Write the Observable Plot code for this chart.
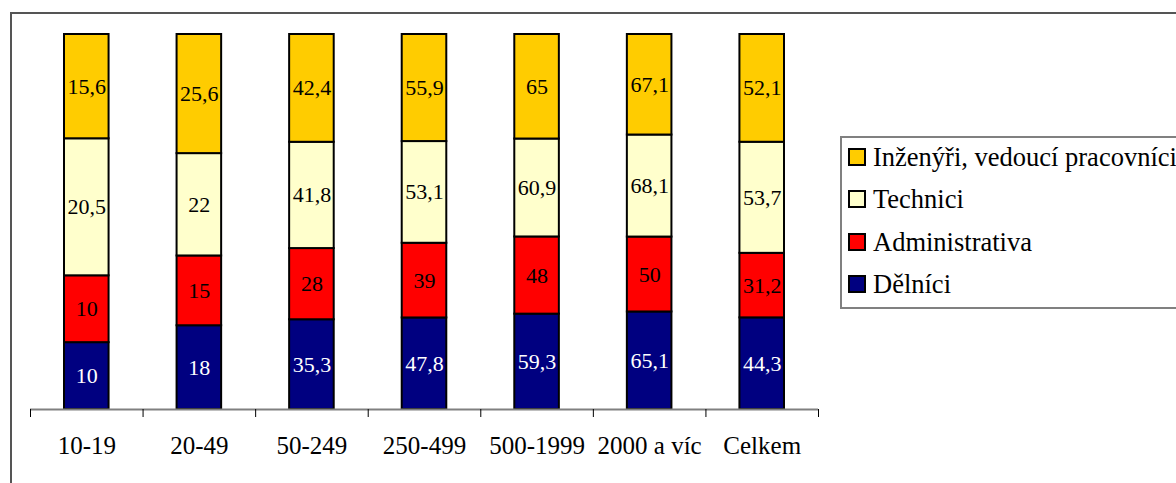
<!DOCTYPE html>
<html><head><meta charset="utf-8">
<script src="https://cdn.jsdelivr.net/npm/d3@7"></script>
<script src="https://cdn.jsdelivr.net/npm/@observablehq/plot@0.6"></script>
<style>
html,body{margin:0;padding:0;background:#fff;overflow:hidden;width:1176px;height:483px}
#wrap{position:relative;width:1176px;height:483px;overflow:hidden}
#frame{position:absolute;left:10px;top:12px;width:1300px;height:700px;border:2px solid #555;}
#chart{position:absolute;left:0;top:0}
#legend{position:absolute;left:840px;top:136px;width:500px;height:169px;border:2px solid #808080;font-family:"Liberation Serif",Tinos,"Times New Roman",Times,"DejaVu Serif",serif;font-size:26.5px;color:#000}
.item{position:absolute;left:6px;display:flex;align-items:center;white-space:nowrap;height:30px}
.sw{width:14px;height:14px;border:2px solid #000;margin-right:7px;flex:none}
svg text{font-family:"Liberation Serif",Tinos,"Times New Roman",Times,"DejaVu Serif",serif}
</style>
</head><body>
<div id="wrap">
<div id="frame"></div>
<div id="chart"></div>
<div id="legend"></div>
</div>
<script>
const categories = ["10-19","20-49","50-249","250-499","500-1999","2000 a víc","Celkem"];
const series = ["Dělníci","Administrativa","Technici","Inženýři, vedoucí pracovníci"];
const delnici = [10,18,35.3,47.8,59.3,65.1,44.3];
const administrativa = [10,15,28,39,48,50,31.2];
const technici = [20.5,22,41.8,53.1,60.9,68.1,53.7];
const inzenyri = [15.6,25.6,42.4,55.9,65,67.1,52.1];
const seriesValues = [delnici, administrativa, technici, inzenyri];
const colors = ["#000080","#FF0000","#FFFFCC","#FFCC00"];
const labelColors = ["#FFFFFF","#000000","#000000","#000000"];

const table = [];
seriesValues.forEach((vals, s) => {
  vals.forEach((v, i) => {
    table.push({i, s, series: series[s], value: v, label: String(v).replace(".", ",")});
  });
});

const serif = "'Liberation Serif',Tinos,'Times New Roman',Times,'DejaVu Serif',serif";
const n = categories.length;
const chart = Plot.plot({
  width: 1176,
  height: 483,
  marginLeft: 30,
  marginRight: 358,
  marginTop: 34,
  marginBottom: 74,
  style: {fontFamily: serif, fontSize: "25px", background: "transparent", color: "#000"},
  x: {domain: [0, n], axis: null, label: null},
  y: {domain: [0, 1], axis: null, label: null},
  marks: [
    Plot.rectY(table, Plot.stackY({
      offset: "normalize",
      x1: "i", x2: d => d.i + 1,
      y: "value", z: "series",
      fill: d => colors[d.s],
      stroke: "#000", strokeWidth: 2,
      insetLeft: 34, insetRight: 34
    })),
    Plot.text(table, Plot.stackY({
      offset: "normalize",
      x: d => d.i + 0.5,
      y: "value", z: "series",
      text: "label",
      fill: d => labelColors[d.s],
      fontSize: 22,
      fontFamily: serif
    })),
    Plot.ruleY([0], {stroke: "#808080", strokeWidth: 2}),
    Plot.axisX({ticks: d3.range(n + 1), tickSize: 8, tickFormat: () => "", stroke: "#000", label: null}),
    Plot.axisX({ticks: d3.range(n).map(i => i + 0.5), tickSize: 0, tickPadding: 27, tickFormat: v => categories[Math.floor(v)], fontSize: 25, fontFamily: serif, fill: "#000", label: null})
  ]
});
document.getElementById("chart").appendChild(chart);

const legend = document.getElementById("legend");
const legendOrder = [3, 2, 1, 0];
const centers = [19, 61, 104, 146];
legendOrder.forEach((s, k) => {
  const it = document.createElement("div");
  it.className = "item";
  it.style.top = (centers[k] - 15) + "px";
  const sw = document.createElement("div");
  sw.className = "sw";
  sw.style.background = colors[s];
  const t = document.createElement("span");
  t.textContent = series[s];
  it.appendChild(sw); it.appendChild(t);
  legend.appendChild(it);
});
</script>
</body></html>
